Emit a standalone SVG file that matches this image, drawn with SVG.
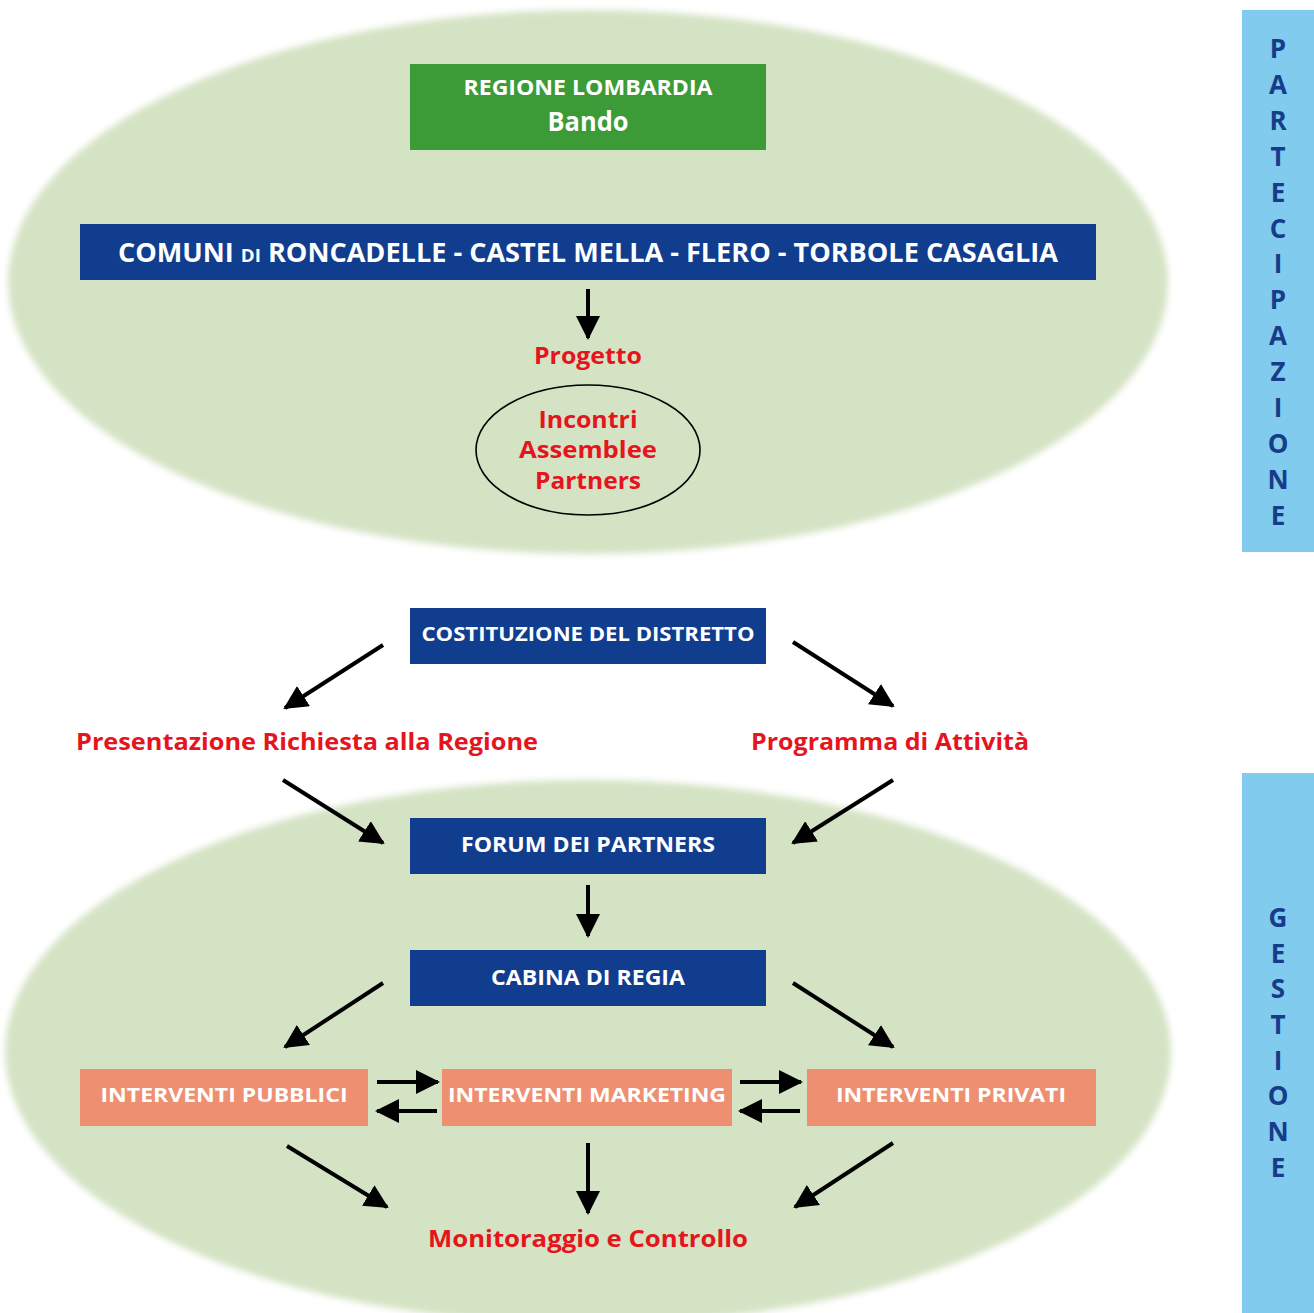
<svg xmlns="http://www.w3.org/2000/svg" width="1314" height="1313" viewBox="0 0 1314 1313">
<defs>
<marker id="ah" viewBox="0 0 24 24" refX="22" refY="12" markerWidth="24" markerHeight="24" markerUnits="userSpaceOnUse" orient="auto">
<path d="M0,0 L24,12 L0,24 z" fill="#000"/>
</marker>
<filter id="soft" x="-5%" y="-5%" width="110%" height="110%"><feGaussianBlur stdDeviation="3"/></filter>
</defs>
<style>
.bg{fill:#d5e3c5}
.blue{fill:#113d8e}
.green{fill:#3c9b37}
.salmon{fill:#ee8f72}
.side{fill:#80cbee}
.wt{fill:#ffffff;font-family:"Open Sans","Liberation Sans",sans-serif;font-weight:bold;text-anchor:middle}
.rt{fill:#e5141d;font-family:"Open Sans","Liberation Sans",sans-serif;font-weight:bold;text-anchor:middle}
.st{fill:#163c8a;font-family:"Open Sans","Liberation Sans",sans-serif;font-weight:bold;text-anchor:middle;font-size:26px}
.arr{stroke:#000;stroke-width:4;fill:none;marker-end:url(#ah)}
</style>
<rect width="1314" height="1313" fill="#ffffff"/>

<g id="background">
<ellipse class="bg" cx="588" cy="282" rx="580" ry="272" filter="url(#soft)"/>
<ellipse class="bg" cx="588" cy="1052" rx="583" ry="272" filter="url(#soft)"/>
</g>

<g id="side-partecipazione">
<rect class="side" x="1242" y="10" width="72" height="542"/>
<text class="st" x="1278" y="58">P</text>
<text class="st" x="1278" y="94">A</text>
<text class="st" x="1278" y="130">R</text>
<text class="st" x="1278" y="166">T</text>
<text class="st" x="1278" y="202">E</text>
<text class="st" x="1278" y="238">C</text>
<text class="st" x="1278" y="273">I</text>
<text class="st" x="1278" y="309">P</text>
<text class="st" x="1278" y="345">A</text>
<text class="st" x="1278" y="381">Z</text>
<text class="st" x="1278" y="417">I</text>
<text class="st" x="1278" y="453">O</text>
<text class="st" x="1278" y="489">N</text>
<text class="st" x="1278" y="525">E</text>
</g>

<g id="side-gestione">
<rect class="side" x="1242" y="773" width="72" height="540"/>
<text class="st" x="1278" y="927">G</text>
<text class="st" x="1278" y="963">E</text>
<text class="st" x="1278" y="998">S</text>
<text class="st" x="1278" y="1034">T</text>
<text class="st" x="1278" y="1070">I</text>
<text class="st" x="1278" y="1105">O</text>
<text class="st" x="1278" y="1141">N</text>
<text class="st" x="1278" y="1177">E</text>
</g>

<g id="regione">
<rect class="green" x="410" y="64" width="356" height="86"/>
<text class="wt" x="588" y="95" font-size="21" textLength="249" lengthAdjust="spacingAndGlyphs">REGIONE LOMBARDIA</text>
<text class="wt" x="588" y="131" font-size="26" textLength="81" lengthAdjust="spacingAndGlyphs">Bando</text>
</g>

<g id="comuni">
<rect class="blue" x="80" y="224" width="1016" height="56"/>
<text class="wt" x="588" y="262" font-size="26" textLength="940" lengthAdjust="spacingAndGlyphs">COMUNI <tspan font-size="18">DI</tspan> RONCADELLE - CASTEL MELLA - FLERO - TORBOLE CASAGLIA</text>
</g>

<g id="progetto">
<text class="rt" x="588" y="364" font-size="24" textLength="108" lengthAdjust="spacingAndGlyphs">Progetto</text>
</g>

<g id="incontri">
<ellipse cx="588" cy="450" rx="112" ry="65" fill="none" stroke="#000" stroke-width="1.6"/>
<text class="rt" x="588" y="428" font-size="24" textLength="99" lengthAdjust="spacingAndGlyphs">Incontri</text>
<text class="rt" x="588" y="458" font-size="24" textLength="138" lengthAdjust="spacingAndGlyphs">Assemblee</text>
<text class="rt" x="588" y="489" font-size="24" textLength="106" lengthAdjust="spacingAndGlyphs">Partners</text>
</g>

<g id="costituzione">
<rect class="blue" x="410" y="608" width="356" height="56"/>
<text class="wt" x="588" y="641" font-size="20" textLength="333" lengthAdjust="spacingAndGlyphs">COSTITUZIONE DEL DISTRETTO</text>
</g>

<g id="presentazione">
<text class="rt" x="307" y="750" font-size="24" textLength="462" lengthAdjust="spacingAndGlyphs">Presentazione Richiesta alla Regione</text>
</g>

<g id="programma">
<text class="rt" x="890" y="750" font-size="24" textLength="278" lengthAdjust="spacingAndGlyphs">Programma di Attività</text>
</g>

<g id="forum">
<rect class="blue" x="410" y="818" width="356" height="56"/>
<text class="wt" x="588" y="852" font-size="21" textLength="254" lengthAdjust="spacingAndGlyphs">FORUM DEI PARTNERS</text>
</g>

<g id="cabina">
<rect class="blue" x="410" y="950" width="356" height="56"/>
<text class="wt" x="588" y="985" font-size="21" textLength="194" lengthAdjust="spacingAndGlyphs">CABINA DI REGIA</text>
</g>

<g id="pubblici">
<rect class="salmon" x="80" y="1069" width="288" height="57"/>
<text class="wt" x="224" y="1102" font-size="20" textLength="247" lengthAdjust="spacingAndGlyphs">INTERVENTI PUBBLICI</text>
</g>

<g id="marketing">
<rect class="salmon" x="442" y="1069" width="290" height="57"/>
<text class="wt" x="587" y="1102" font-size="20" textLength="278" lengthAdjust="spacingAndGlyphs">INTERVENTI MARKETING</text>
</g>

<g id="privati">
<rect class="salmon" x="807" y="1069" width="289" height="57"/>
<text class="wt" x="951" y="1102" font-size="20" textLength="230" lengthAdjust="spacingAndGlyphs">INTERVENTI PRIVATI</text>
</g>

<g id="monitoraggio">
<text class="rt" x="588" y="1247" font-size="24" textLength="320" lengthAdjust="spacingAndGlyphs">Monitoraggio e Controllo</text>
</g>

<g id="connectors">
<line class="arr" x1="588" y1="289" x2="588" y2="338"/>
<line class="arr" x1="383" y1="645" x2="285" y2="708"/>
<line class="arr" x1="793" y1="642" x2="893" y2="706"/>
<line class="arr" x1="283" y1="780" x2="383" y2="843"/>
<line class="arr" x1="893" y1="780" x2="793" y2="843"/>
<line class="arr" x1="588" y1="885" x2="588" y2="936"/>
<line class="arr" x1="383" y1="983" x2="285" y2="1047"/>
<line class="arr" x1="793" y1="983" x2="893" y2="1047"/>
<line class="arr" x1="377" y1="1082" x2="438" y2="1082"/>
<line class="arr" x1="437" y1="1111" x2="377" y2="1111"/>
<line class="arr" x1="740" y1="1082" x2="801" y2="1082"/>
<line class="arr" x1="800" y1="1111" x2="740" y2="1111"/>
<line class="arr" x1="287" y1="1146" x2="387" y2="1207"/>
<line class="arr" x1="588" y1="1143" x2="588" y2="1213"/>
<line class="arr" x1="893" y1="1143" x2="795" y2="1207"/>
</g>
</svg>
